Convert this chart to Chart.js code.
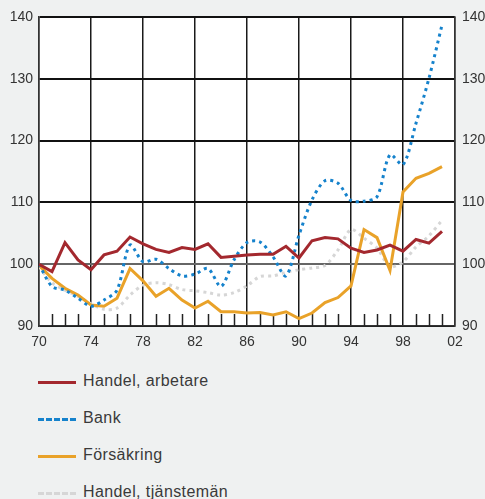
<html>
<head>
    <title>Löneutveckling</title>
    <script src="https://cdn.jsdelivr.net/npm/chart.js"></script>
    <style>
        body { margin: 0; background: #eff1f1; font-family: "Liberation Sans", Arial, sans-serif; }
        .chartBox { position: absolute; left: 0; top: 0; width: 485px; height: 350px; }
        .legend { position: absolute; left: 38px; top: 370px; }
        .legendRow { height: 37px; display: flex; align-items: flex-start; color: #3a3a3a; font-size: 16px; letter-spacing: 0.4px; }
        .legendRow span.sample { width: 38px; height: 0; margin-top: 11px; margin-right: 7px; }
        .legendRow span.text { line-height: 22px; }
    </style>
</head>
<body>
    <div class="chartBox"><canvas id="wageChart" width="485" height="350"></canvas></div>
    <div class="legend">
        <div class="legendRow"><span class="sample" style="border-top: 3px solid #a3282e"></span><span class="text">Handel, arbetare</span></div>
        <div class="legendRow"><span class="sample" style="border-top: 3px dashed #1582cc"></span><span class="text">Bank</span></div>
        <div class="legendRow"><span class="sample" style="border-top: 3px solid #e9a229"></span><span class="text">Försäkring</span></div>
        <div class="legendRow"><span class="sample" style="border-top: 3px dashed #d6d6d6"></span><span class="text">Handel, tjänstemän</span></div>
    </div>

    <script type="text/javascript" charset="utf-8">

        var years = [70, 71, 72, 73, 74, 75, 76, 77, 78, 79, 80, 81, 82, 83, 84, 85, 86, 87, 88, 89, 90, 91, 92, 93, 94, 95, 96, 97, 98, 99, 100, 101];
        var handelArbetare = [100, 98.8, 103.5, 100.7, 99.1, 101.5, 102.1, 104.4, 103.3, 102.4, 101.9, 102.7, 102.4, 103.3, 101.1, 101.3, 101.5, 101.6, 101.6, 102.9, 101.0, 103.8, 104.3, 104.1, 102.6, 101.9, 102.3, 103.1, 102.1, 104.0, 103.4, 105.3];
        var bank = [100, 96.4, 95.8, 94.5, 93.2, 94.2, 95.8, 103.1, 100.4, 100.8, 99.3, 98.1, 98.4, 99.3, 96.4, 100.7, 103.5, 103.6, 101.2, 98.1, 104.7, 110.4, 113.5, 113.1, 110.3, 110.2, 110.9, 117.7, 116.1, 122.8, 130.1, 138.7];
        var forsakring = [99.8, 97.7, 96.1, 95.0, 93.4, 93.2, 94.5, 99.3, 97.3, 94.8, 96.1, 94.2, 92.9, 94.0, 92.3, 92.3, 92.1, 92.2, 91.8, 92.3, 91.2, 92.1, 93.8, 94.6, 96.5, 105.6, 104.3, 99.0, 111.7, 113.9, 114.7, 115.8];
        var handelTjansteman = [99.6, 97.0, 95.8, 94.8, 93.6, 92.7, 92.9, 95.0, 96.6, 97.0, 96.7, 95.9, 95.7, 95.4, 95.0, 95.4, 96.5, 98.0, 98.1, 98.7, 99.1, 99.4, 99.8, 102.3, 105.6, 104.2, 102.6, 99.6, 100.4, 102.8, 104.6, 107.1];
        var yTicks = [90, 100, 110, 120, 130, 140];
        var xStart = 70;
        var xEnd = 102;

        function toPoints(values) {
            return years.map((yr, i) => ({ x: yr, y: values[i] }));
        }

        function yearLabel(v) {
            var s = String(v % 100);
            return s.length < 2 ? '0' + s : s;
        }

        // small tick marks for the in-between years, drawn up from the bottom edge
        const minorTicks = {
            id: 'minorTicks',
            beforeDatasetsDraw(chart) {
                const ctx = chart.ctx;
                const xs = chart.scales.x;
                const bottom = chart.chartArea.bottom;
                ctx.save();
                ctx.strokeStyle = '#222';
                ctx.lineWidth = 1.5;
                for (var yr = xStart + 1; yr < xEnd; yr++) {
                    if ((yr - xStart) % 4 == 0) continue;
                    const px = Math.round(xs.getPixelForValue(yr)) + 0.5;
                    ctx.beginPath();
                    ctx.moveTo(px, bottom);
                    ctx.lineTo(px, bottom - 12);
                    ctx.stroke();
                }
                ctx.restore();
            }
        };

        const tickFont = { family: '"Liberation Sans", Arial, sans-serif', size: 14 };

        new Chart(document.getElementById('wageChart'), {
            type: 'line',
            data: {
                datasets: [
                    { label: 'Handel, arbetare', data: toPoints(handelArbetare), borderColor: '#a3282e', borderWidth: 3, pointRadius: 0, tension: 0 },
                    { label: 'Bank', data: toPoints(bank), borderColor: '#1582cc', borderWidth: 3, borderDash: [3, 4], pointRadius: 0, tension: 0.3 },
                    { label: 'Försäkring', data: toPoints(forsakring), borderColor: '#e9a229', borderWidth: 3, pointRadius: 0, tension: 0 },
                    { label: 'Handel, tjänstemän', data: toPoints(handelTjansteman), borderColor: '#d6d6d6', borderWidth: 3, borderDash: [3, 4], pointRadius: 0, tension: 0.3 }
                ]
            },
            options: {
                responsive: false,
                animation: false,
                layout: { padding: { top: 17, left: 0, right: 0, bottom: 0 } },
                plugins: {
                    legend: { display: false },
                    tooltip: { enabled: false }
                },
                scales: {
                    x: {
                        type: 'linear',
                        min: xStart,
                        max: xEnd,
                        afterFit: (s) => { s.height = 24; },
                        border: { color: '#333', width: 1.5 },
                        grid: { color: '#1a1a1a', lineWidth: 1.5, drawTicks: false },
                        ticks: { stepSize: 4, padding: 8, color: '#333', font: tickFont, maxRotation: 0, callback: (v) => yearLabel(v) }
                    },
                    y: {
                        position: 'left',
                        min: 90,
                        max: 140,
                        afterFit: (s) => { s.width = 39; },
                        afterBuildTicks: (s) => { s.ticks = yTicks.map(v => ({ value: v })); },
                        border: { color: '#333', width: 1.5 },
                        grid: {
                            drawTicks: false,
                            lineWidth: 2,
                            color: (c) => (c.tick && c.tick.value == 100 ? '#666' : '#111')
                        },
                        ticks: { padding: 6, color: '#333', font: tickFont }
                    },
                    y2: {
                        position: 'right',
                        min: 90,
                        max: 140,
                        afterFit: (s) => { s.width = 30; },
                        afterBuildTicks: (s) => { s.ticks = yTicks.map(v => ({ value: v })); },
                        border: { color: '#333', width: 1.5 },
                        grid: { display: false, drawTicks: false },
                        ticks: { padding: 7, color: '#333', font: tickFont }
                    }
                }
            },
            plugins: [minorTicks, {
                id: 'plotBg',
                beforeDraw(chart) {
                    const a = chart.chartArea;
                    chart.ctx.save();
                    chart.ctx.fillStyle = '#ffffff';
                    chart.ctx.fillRect(a.left, a.top, a.right - a.left, a.bottom - a.top);
                    chart.ctx.restore();
                }
            }]
        });

    </script>
</body>
</html>
